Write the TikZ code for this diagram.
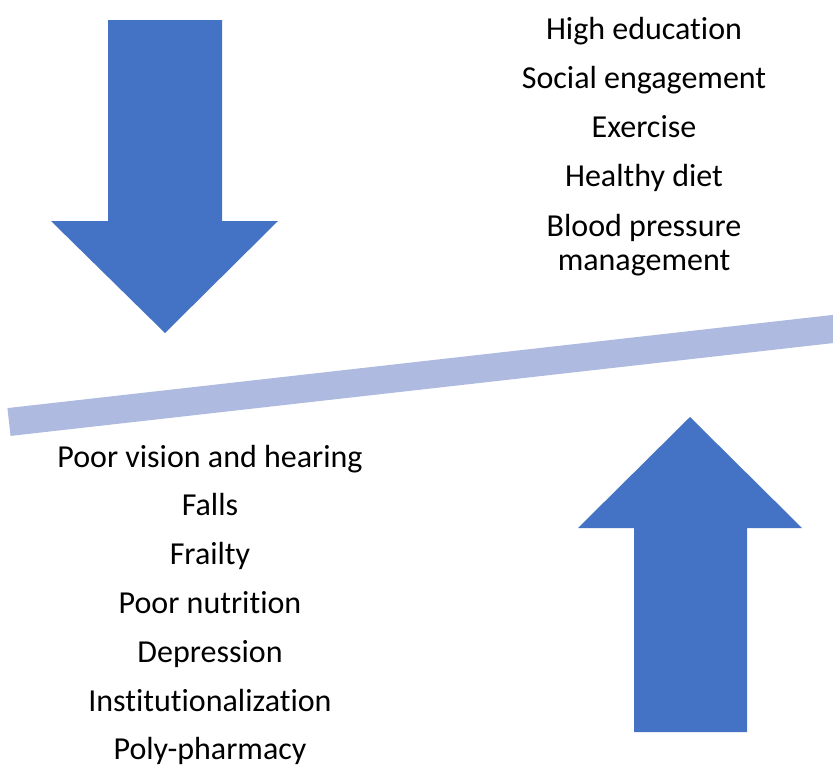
\documentclass[tikz,border=0pt]{standalone}
\usepackage{fontspec}
\setmainfont[Ligatures=CommonOff]{Carlito}
\definecolor{arrowblue}{HTML}{4472C4}
\definecolor{beamblue}{HTML}{AEBADF}
\begin{document}
\begin{tikzpicture}[x=1pt,y=-1pt,
  bigarrow/.style={fill=arrowblue,draw=none},
  item/.style={anchor=base,inner sep=0pt,font=\fontsize{32}{34}\selectfont,align=center}]
\useasboundingbox (0,0) rectangle (833,764);
% down arrow
\fill[bigarrow] (108,20) -- (222,20) -- (222,221) -- (278,221) -- (165,333) -- (51,221) -- (108,221) -- cycle;
% up arrow
\fill[bigarrow] (634,732) -- (747,732) -- (747,528) -- (802,528) -- (690,417) -- (578,528) -- (634,528) -- cycle;
% beam
\coordinate (bl) at (9,422);
\coordinate (br) at (840,328.2);
\draw[beamblue,line width=28pt] (bl) -- (br);
% top right texts
\node[item] (t1) at (644,39.5) {High education};
\node[item] (t2) at (644,88.5) {Social engagement};
\node[item] (t3) at (644,137.5) {Exercise};
\node[item] (t4) at (644,186.5) {Healthy diet};
\node[item] (t5) at (644,270) {Blood pressure\\management};
% bottom left texts
\node[item] (b1) at (210,467) {Poor vision and hearing};
\node[item] (b2) at (210,515.5) {Falls};
\node[item] (b3) at (210,564) {Frailty};
\node[item] (b4) at (210,613) {Poor nutrition};
\node[item] (b5) at (210,662) {Depression};
\node[item] (b6) at (210,711) {Institutionalization};
\node[item] (b7) at (210,759) {Poly-pharmacy};
\end{tikzpicture}
\end{document}
